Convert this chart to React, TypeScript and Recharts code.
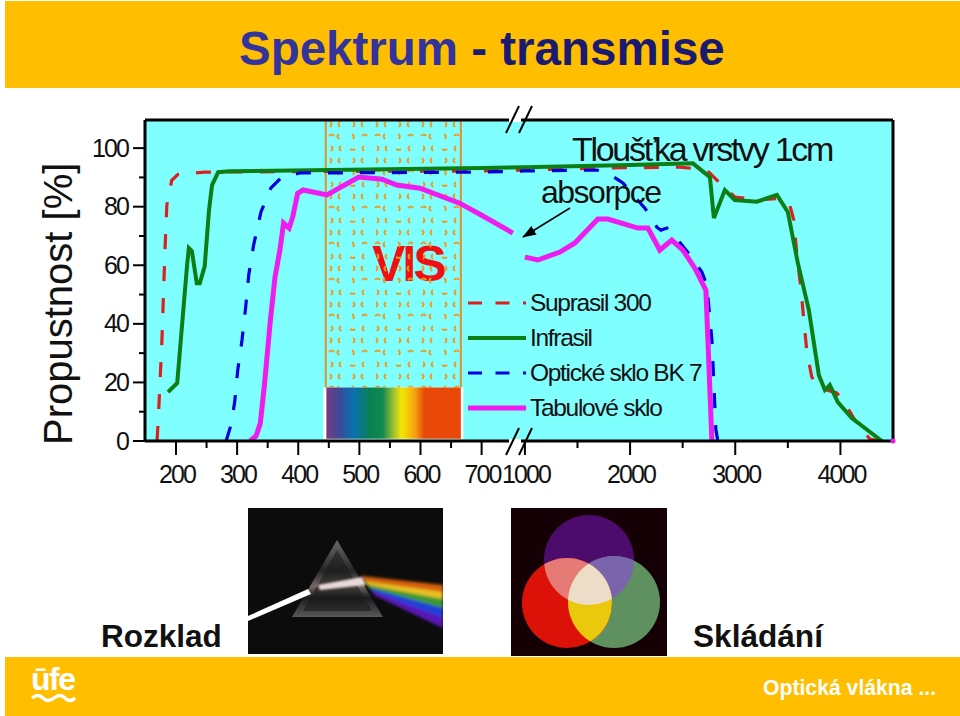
import React from "react";
import { LineChart, Line, XAxis, YAxis, ReferenceArea, ReferenceLine, ReferenceDot, Legend } from "recharts";

const suprasilNm = [169,171,177,182,185,193,203,247,403,700,1000,1713,2473,2664,2749,2873,2996,3234,3424,3519,3557,3586,3624,3652,3681,3728,3804,3966,4051,4166,4280,4375];
const suprasilT = [0,7.2,34.5,65.2,80.5,89,91,91.8,92,92.2,92.5,93.2,93.5,92.8,91.8,87.4,83.3,82.3,82.9,80.5,75.4,63.5,52.2,41.3,30.4,21.8,18.1,16.4,12.3,5.5,0.7,0];
const infrasilNm = [187,202,218,221,226,234,239,247,254,259,269,288,452,700,1000,2000,2597,2759,2797,2901,2996,3205,3396,3500,3595,3700,3795,3852,3899,3975,4108,4394];
const infrasilT = [16.7,19.8,59.7,65.9,64.8,53.9,53.9,59.7,78.8,87.4,91.8,92.1,92.5,93.2,93.5,94.2,94.8,90.1,76.1,85.7,82.3,81.7,84,78.2,60.8,44.7,22.5,17.4,19.1,13.3,7.8,0];
const bk7Nm = [282,290,296,301,308,314,319,327,339,355,373,403,700,1000,1684,1818,1932,2046,2141,2255,2293,2350,2454,2569,2683,2730,2778,2816,2835];
const bk7T = [0,5.5,13.3,24.2,34.5,45.7,56.7,66.9,78.2,86.3,90.1,91.5,91.8,92.2,92.5,90.8,88.1,83.3,79.5,73,72,72.7,68.6,63.5,57.7,53.2,34.5,3.8,0];
const sklonm = [321,331,338,345,354,362,370,376,385,391,399,408,447,499,537,561,599,664,700,916,960,1000,1124,1333,1475,1694,1789,2074,2169,2283,2397,2502,2616,2721,2740,2778];
const skloT: (number | null)[] = [0,1.7,6.1,19.8,40.3,56,65.2,74.4,72.7,76.5,84.6,85.7,84,90.1,89.4,87.4,86.3,81.2,77.1,71,null,62.8,61.8,64.5,67.6,75.8,75.8,72.7,72.7,65.2,68.6,65.2,59,51.5,34.5,0];

const xMajorNm = [200,300,400,500,600,700,1000,2000,3000,4000];
const xMinorNm = [250,350,450,550,650,1500,2500,3500];
const yMajor = [0,20,40,60,80,100];
const yMinor = [10,30,50,70,90];

const toPos = (w: number) => (w <= 700 ? w : w <= 1000 ? 700 + ((w - 700) / 300) * 70.8 : 770.8 + (w - 1000) * 0.17206);
const zip = (nm: number[], t: (number | null)[]) => nm.map((w, i) => ({ pos: toPos(w), t: t[i] }));

const W = 960, H = 716;
const L = 145, T = 120, R = 893, B = 441;
const FONT = '"Liberation Sans", Arial, sans-serif';
const COL = { red: "#DC2020", green: "#0B7F14", blue: "#0000DE", mag: "#EE1CEE", cyan: "#80FFFF", orange: "#FFBE00", pat: "#EE9A22" };

const arcs = [
  "M4 2q3 2 0 5","M14 2q-3 2 0 5","M27 2q3 2 0 5","M37 2q-3 2 0 5",
  "M3 16q3-3 5 0","M13 14q-3 2 0 5","M26 14q3 2 1 5","M36 16q3-3 5 0",
  "M5 26q3 2 0 5","M15 26q-3 2 0 5","M24 29q3 2 5 0","M38 26q-3 2 0 5",
];

const YTick = (p: any) => {
  const v = p.payload.value;
  const major = yMajor.includes(v);
  return (
    <g>
      <line x1={major ? L - 12 : L - 6} x2={L} y1={p.y} y2={p.y} stroke="#000" strokeWidth={2} />
      {major && <text x={128} y={p.y + 8.5} textAnchor="end" fontFamily={FONT} fontSize={25} letterSpacing={-1.9} fill="#111">{v}</text>}
    </g>
  );
};
const posLabel = new Map(xMajorNm.map((w) => [toPos(w), w]));
const XTick = (p: any) => {
  const w = posLabel.get(p.payload.value);
  return (
    <g>
      <line x1={p.x} x2={p.x} y1={B} y2={w ? B + 14 : B + 7} stroke="#000" strokeWidth={2} />
      {w && <text x={p.x + 1} y={B + 42} textAnchor="middle" fontFamily={FONT} fontSize={25} letterSpacing={-1.9} fill="#111">{w}</text>}
    </g>
  );
};

const LegendBox = (p: any) => (
  <div style={{ fontFamily: FONT, fontSize: 24.5, letterSpacing: -1.3, color: "#111" }}>
    {(p.payload || []).map((it: any, i: number) => (
      <div key={i} style={{ height: 35.2, display: "flex", alignItems: "center" }}>
        <svg width={62} height={10} style={{ flex: "none" }}>
          <line x1={0} x2={58} y1={5} y2={5} stroke={it.color} strokeWidth={it.payload?.strokeWidth ?? 3} strokeDasharray={it.payload?.strokeDasharray ? "14 13.5" : undefined} />
        </svg>
        <span style={{ whiteSpace: "nowrap" }}>{it.value}</span>
      </div>
    ))}
  </div>
);

const Prism = () => (
  <svg width={195} height={146} style={{ position: "absolute", left: 248, top: 508 }} viewBox="248 508 195 146">
    <defs>
      <filter id="b1"><feGaussianBlur stdDeviation="1.6" /></filter>
      <filter id="b2"><feGaussianBlur stdDeviation="0.8" /></filter>
      <linearGradient id="pr" x1="0" y1="0" x2="0" y2="1">
        <stop offset="0" stopColor="#7a7a7a" /><stop offset="0.4" stopColor="#2a2a2a" /><stop offset="0.6" stopColor="#8a7a78" /><stop offset="0.75" stopColor="#1e1e1e" /><stop offset="1" stopColor="#666" />
      </linearGradient>
    </defs>
    <rect x={248} y={508} width={195} height={146} fill="#0C0C0C" />
    <g filter="url(#b1)">
      <polygon points="361,576 443,585 443,593 364,581" fill="#D86010" />
      <polygon points="364,581 443,592 443,600 367,585" fill="#E8C020" />
      <polygon points="367,585 443,599 443,609 370,589" fill="#3C9A30" />
      <polygon points="370,588 443,608 443,619 372,592" fill="#2040D8" />
      <polygon points="372,591 443,618 443,628 374,595" fill="#5A18B8" />
    </g>
    <polygon points="337,540 292,617 383,617" fill="url(#pr)" opacity={0.85} />
    <polygon points="337,550 303,611 372,611" fill="#1a1a1a" opacity={0.55} />
    <polygon points="318,585 362,577 366,585 320,590" fill="#E8D8D8" filter="url(#b2)" />
    <polygon points="248,616 248,621 311,594 308,589" fill="#FFFFFF" />
  </svg>
);

const Circles = () => (
  <svg width={156} height={148} style={{ position: "absolute", left: 511, top: 508 }} viewBox="511 508 156 148">
    <defs>
      <clipPath id="cP"><circle cx={589} cy={560} r={45} /></clipPath>
      <clipPath id="cR"><circle cx={567} cy={603} r={45} /></clipPath>
      <clipPath id="cG"><circle cx={614} cy={602} r={46} /></clipPath>
    </defs>
    <rect x={511} y={508} width={156} height={148} fill="#150006" />
    <circle cx={589} cy={560} r={45} fill="#4C0C6C" />
    <circle cx={614} cy={602} r={46} fill="#5F9060" />
    <circle cx={567} cy={603} r={45} fill="#DC1208" />
    <g clipPath="url(#cP)"><circle cx={567} cy={603} r={45} fill="#E67A74" /><circle cx={614} cy={602} r={46} fill="#7A64AC" /></g>
    <g clipPath="url(#cR)"><circle cx={614} cy={602} r={46} fill="#EAC80C" /></g>
    <g clipPath="url(#cR)"><g clipPath="url(#cG)"><circle cx={589} cy={560} r={45} fill="#ECDCC8" /></g></g>
  </svg>
);

export default function App() {
  return (
    <div style={{ position: "absolute", left: 0, top: 0, width: W, height: H, background: "#fff", overflow: "hidden", fontFamily: FONT }}>
      <div style={{ position: "absolute", left: 5, top: 1, width: 955, height: 87, background: COL.orange }} />
      <div style={{ position: "absolute", left: 239, top: 22, fontSize: 47.5, fontWeight: 700, whiteSpace: "pre", lineHeight: "54px" }}>
        <span style={{ color: "#33339C" }}>Spektrum</span><span style={{ color: "#1A1A70" }}> - transmise</span>
      </div>
      <LineChart width={W} height={H} margin={{ left: L - 1, top: T, right: W - R, bottom: H - B - 1 }} style={{ position: "absolute", left: 0, top: 0 }}>
        <defs>
          <pattern id="visDots" width="46" height="36" patternUnits="userSpaceOnUse" x="326" y="120">
            {arcs.map((d, i) => <path key={i} d={d} fill="none" stroke={COL.pat} strokeWidth={2} />)}
          </pattern>
          <linearGradient id="spec" x1="0" y1="0" x2="1" y2="0">
            <stop offset="0" stopColor="#7A3A7C" /><stop offset="0.1" stopColor="#3A4A98" /><stop offset="0.2" stopColor="#0A70B0" />
            <stop offset="0.33" stopColor="#0A8050" /><stop offset="0.42" stopColor="#108A50" /><stop offset="0.5" stopColor="#A0C030" />
            <stop offset="0.56" stopColor="#F2E800" /><stop offset="0.66" stopColor="#F5A010" /><stop offset="0.73" stopColor="#E84808" /><stop offset="1" stopColor="#E84808" />
          </linearGradient>
        </defs>
        <XAxis dataKey="pos" type="number" domain={[149.3, 1373]} allowDataOverflow height={1}
          ticks={[...xMajorNm, ...xMinorNm].map(toPos)} interval={0} tickLine={false} tick={XTick} axisLine={{ stroke: "#000", strokeWidth: 3 }} />
        <YAxis type="number" domain={[0, 109.6]} width={1} allowDataOverflow
          ticks={[...yMajor, ...yMinor]} interval={0} tickLine={false} tick={YTick} axisLine={{ stroke: "#000", strokeWidth: 3 }}
          label={{ content: () => <text transform="translate(72,445) rotate(-90)" fontFamily={FONT} fontSize={40} fill="#111">Propustnost [%]</text> }} />
        <ReferenceArea x1={149.3} x2={1373} y1={0} y2={109.6} fill={COL.cyan} fillOpacity={1} stroke="none" />
        <ReferenceArea x1={445} x2={666} y1={18.3} y2={64}
          label={{ content: () => <text x={372} y={281} fontFamily={FONT} fontWeight={700} fontSize={50} letterSpacing={-3} fill="#F01010">VIS</text> }}
          fill="none" stroke="none" />
        <ReferenceArea x1={445} x2={666} y1={0} y2={109.6} fill="url(#visDots)" fillOpacity={1} stroke="#E09030" strokeWidth={2} />
        <ReferenceArea x1={441} x2={670} y1={0.5} y2={18.3} fill="#fff" fillOpacity={1} stroke="none" />
        <ReferenceArea x1={446} x2={666} y1={0.8} y2={18.3} fill="url(#spec)" fillOpacity={1} stroke="none" />
        <ReferenceLine y={109.6} stroke="#000" strokeWidth={3} />
        <ReferenceLine x={1373} stroke="#000" strokeWidth={3} />
        <Line name="Suprasil 300" data={zip(suprasilNm, suprasilT)} dataKey="t" stroke={COL.red} strokeWidth={3.2} strokeDasharray="15 17" dot={false} isAnimationActive={false} />
        <Line name="Infrasil" data={zip(infrasilNm, infrasilT)} dataKey="t" stroke={COL.green} strokeWidth={4} dot={false} isAnimationActive={false} />
        <Line name="Optické sklo BK 7" data={zip(bk7Nm, bk7T)} dataKey="t" stroke={COL.blue} strokeWidth={3.2} strokeDasharray="15 17" dot={false} isAnimationActive={false} />
        <Line name="Tabulové sklo" data={zip(sklonm, skloT)} dataKey="t" stroke={COL.mag} strokeWidth={5} dot={false} isAnimationActive={false} />
        <ReferenceDot x={1373} y={0} r={2.5} fill={COL.mag} stroke="none" />
        <Legend layout="vertical" align="center" verticalAlign="middle" itemSorter={null as any} content={LegendBox}
          wrapperStyle={{ left: 468, top: 285, width: 300 }} />
      </LineChart>
      <svg width={W} height={H} style={{ position: "absolute", left: 0, top: 0, pointerEvents: "none" }}>
        <defs>
          <marker id="ah" markerUnits="userSpaceOnUse" markerWidth="14" markerHeight="10" refX="13" refY="5" orient="auto">
            <path d="M0 0L14 5L0 10z" fill="#000" />
          </marker>
        </defs>
        <line x1={509} x2={521} y1={T} y2={T} stroke="#fff" strokeWidth={4} />
        <line x1={509} x2={521} y1={B} y2={B} stroke="#fff" strokeWidth={4} />
        {[[506,133,519,106],[519,133,532,106],[506,455,519,428],[519,455,532,428]].map((s, i) => (
          <line key={i} x1={s[0]} y1={s[1]} x2={s[2]} y2={s[3]} stroke="#000" strokeWidth={2} />
        ))}
        <text x={572} y={161} fontFamily={FONT} fontSize={34} letterSpacing={-2.3} fill="#111">Tloušťka vrstvy 1cm</text>
        <text x={541} y={203} fontFamily={FONT} fontSize={32} letterSpacing={-1.5} fill="#111">absorpce</text>
        <line x1={570} y1={208} x2={523} y2={237} stroke="#000" strokeWidth={1.5} markerEnd="url(#ah)" />
      </svg>
      <Prism />
      <Circles />
      <div style={{ position: "absolute", left: 101, top: 618, fontSize: 31.5, fontWeight: 700, color: "#111", lineHeight: "36px" }}>Rozklad</div>
      <div style={{ position: "absolute", left: 693, top: 618, fontSize: 31.6, fontWeight: 700, color: "#111", lineHeight: "36px" }}>Skládání</div>
      <div style={{ position: "absolute", left: 5, top: 657, width: 955, height: 59, background: COL.orange }} />
      <svg width={60} height={50} style={{ position: "absolute", left: 28, top: 660 }}>
        <text x={3} y={30} fontFamily={FONT} fontWeight={700} fontSize={32} letterSpacing={-1.5} fill="#fff">ūfe</text>
        <path d="M4 38q6-5 11 0t11 0t11 0t10 0" fill="none" stroke="#fff" strokeWidth={3.5} />
      </svg>
      <div style={{ position: "absolute", left: 763, top: 675, fontSize: 21.2, fontWeight: 700, color: "#fff", whiteSpace: "pre", lineHeight: "26px" }}>Optická vlákna ...</div>
    </div>
  );
}
